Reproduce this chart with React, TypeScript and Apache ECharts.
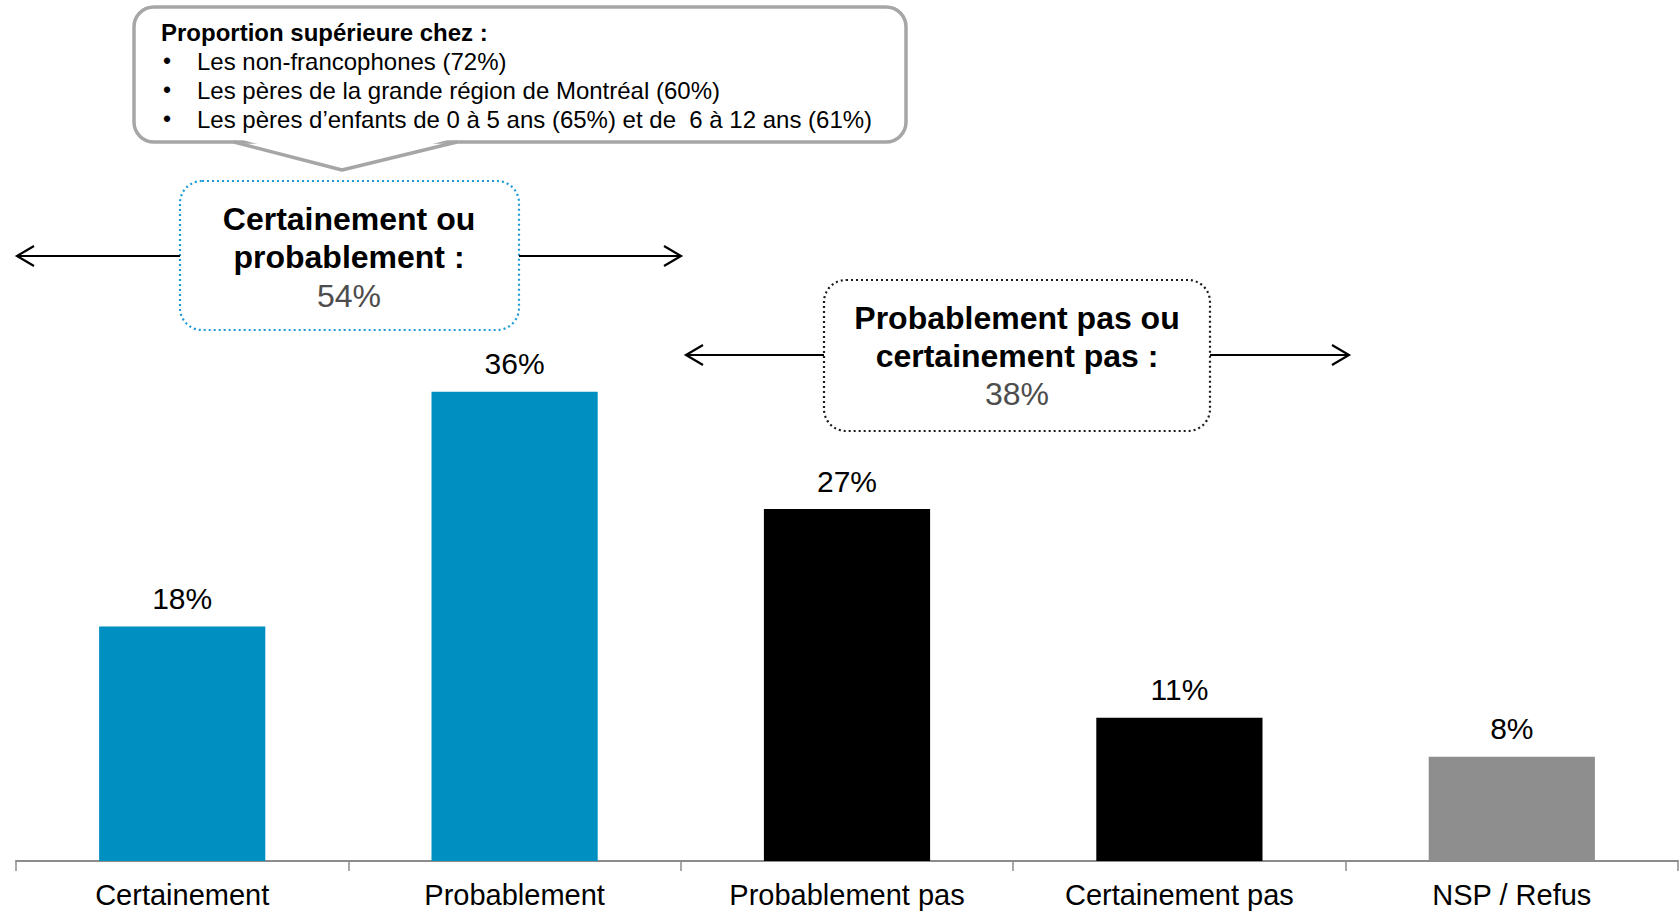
import React, { useEffect, useRef } from "react";
import * as echarts from "echarts";

const categories = ["Certainement", "Probablement", "Probablement pas", "Certainement pas", "NSP / Refus"];
const values = [18, 36, 27, 11, 8];
const barColors = ["#008FC1", "#008FC1", "#000000", "#000000", "#8E8E8E"];

const calloutTitle = "Proportion supérieure chez :";
const calloutItems = [
  "Les non-francophones (72%)",
  "Les pères de la grande région de Montréal (60%)",
  "Les pères d’enfants de 0 à 5 ans (65%) et de  6 à 12 ans (61%)",
];
const groupPositiveLines = ["Certainement ou", "probablement :"];
const groupPositiveValue = "54%";
const groupNegativeLines = ["Probablement pas ou", "certainement pas :"];
const groupNegativeValue = "38%";

const FONT = "'Liberation Sans', Arial, sans-serif";

function arrow(x1: number, x2: number, y: number, dir: "left" | "right") {
  const tipX = dir === "left" ? x1 : x2;
  const d = dir === "left" ? 17 : -17;
  return [
    { type: "line", shape: { x1, y1: y, x2, y2: y }, style: { stroke: "#000", lineWidth: 2.2 }, silent: true },
    {
      type: "polyline",
      shape: { points: [[tipX + d, y - 10], [tipX, y], [tipX + d, y + 10]] },
      style: { stroke: "#000", lineWidth: 2.2, fill: null },
      silent: true,
    },
  ];
}

function centeredText(x: number, y: number, text: string, size: number, bold: boolean, color = "#000") {
  return {
    type: "text",
    x,
    y,
    style: {
      text,
      fill: color,
      font: `${bold ? "bold " : ""}${size}px ${FONT}`,
      align: "center",
      verticalAlign: "middle",
    },
    silent: true,
  };
}

export default function App() {
  const ref = useRef<HTMLDivElement>(null);
  useEffect(() => {
    if (!ref.current) return;
    const chart = echarts.init(ref.current, null, { renderer: "svg" });

    const graphics: any[] = [];
    // Callout box
    graphics.push({
      type: "rect",
      shape: { x: 134, y: 7, width: 772, height: 135, r: 20 },
      style: { fill: "#fff", stroke: "#A6A6A6", lineWidth: 3.5 },
      silent: true,
    });
    graphics.push({
      type: "polygon",
      shape: { points: [[236, 138], [455, 138], [342, 168]] },
      style: { fill: "#fff", stroke: null },
      silent: true,
    });
    graphics.push({
      type: "polyline",
      shape: { points: [[234, 142], [342, 170], [457, 142]] },
      style: { stroke: "#A6A6A6", lineWidth: 3.5, fill: null, lineJoin: "round" },
      silent: true,
    });
    graphics.push({
      type: "text",
      x: 161,
      y: 32,
      style: { text: calloutTitle, fill: "#000", font: `bold 24px ${FONT}`, verticalAlign: "middle" },
      silent: true,
    });
    calloutItems.forEach((t, i) => {
      const y = 61 + i * 29;
      graphics.push({
        type: "text",
        x: 163,
        y,
        style: { text: "•", fill: "#000", font: `23px ${FONT}`, verticalAlign: "middle" },
        silent: true,
      });
      graphics.push({
        type: "text",
        x: 197,
        y,
        style: { text: t, fill: "#000", font: `24px ${FONT}`, verticalAlign: "middle" },
        silent: true,
      });
    });

    // Positive group box
    graphics.push({
      type: "rect",
      shape: { x: 180, y: 181, width: 339, height: 149, r: 22 },
      style: { fill: "#fff", stroke: "#1E9BD7", lineWidth: 2.2, lineDash: [2, 3] },
      silent: true,
    });
    graphics.push(centeredText(349, 219, groupPositiveLines[0], 32, true));
    graphics.push(centeredText(349, 257, groupPositiveLines[1], 32, true));
    graphics.push(centeredText(349, 296, groupPositiveValue, 32, false, "#4D4D4D"));
    graphics.push(...arrow(17, 180, 256, "left"));
    graphics.push(...arrow(519, 681, 256, "right"));

    // Negative group box
    graphics.push({
      type: "rect",
      shape: { x: 824, y: 280, width: 386, height: 151, r: 22 },
      style: { fill: "#fff", stroke: "#1a1a1a", lineWidth: 2.2, lineDash: [2, 3] },
      silent: true,
    });
    graphics.push(centeredText(1017, 318, groupNegativeLines[0], 32, true));
    graphics.push(centeredText(1017, 356, groupNegativeLines[1], 32, true));
    graphics.push(centeredText(1017, 394, groupNegativeValue, 32, false, "#4D4D4D"));
    graphics.push(...arrow(686, 824, 355, "left"));
    graphics.push(...arrow(1210, 1349, 355, "right"));

    chart.setOption({
      animation: false,
      backgroundColor: "#fff",
      grid: { left: 16, right: 2, top: 79, bottom: 50, containLabel: false },
      xAxis: {
        type: "category",
        data: categories,
        axisLine: { show: true, lineStyle: { color: "#8C8C8C", width: 2 } },
        axisTick: { show: true, length: 10, lineStyle: { color: "#8C8C8C", width: 1.5 } },
        axisLabel: { color: "#000", fontSize: 29, fontFamily: FONT, margin: 19, interval: 0 },
      },
      yAxis: {
        type: "value",
        min: 0,
        max: 60,
        show: false,
        splitLine: { show: false },
      },
      series: [
        {
          type: "bar",
          barWidth: "50%",
          data: values.map((v, i) => ({ value: v, itemStyle: { color: barColors[i] } })),
          label: {
            show: true,
            position: "top",
            distance: 13,
            formatter: "{c}%",
            color: "#000",
            fontSize: 30,
            fontFamily: FONT,
          },
        },
      ],
      graphic: graphics,
    });

    return () => chart.dispose();
  }, []);

  return (
    <div
      ref={ref}
      style={{ position: "fixed", left: 0, top: 0, width: 1680, height: 911, background: "#fff" }}
    />
  );
}
